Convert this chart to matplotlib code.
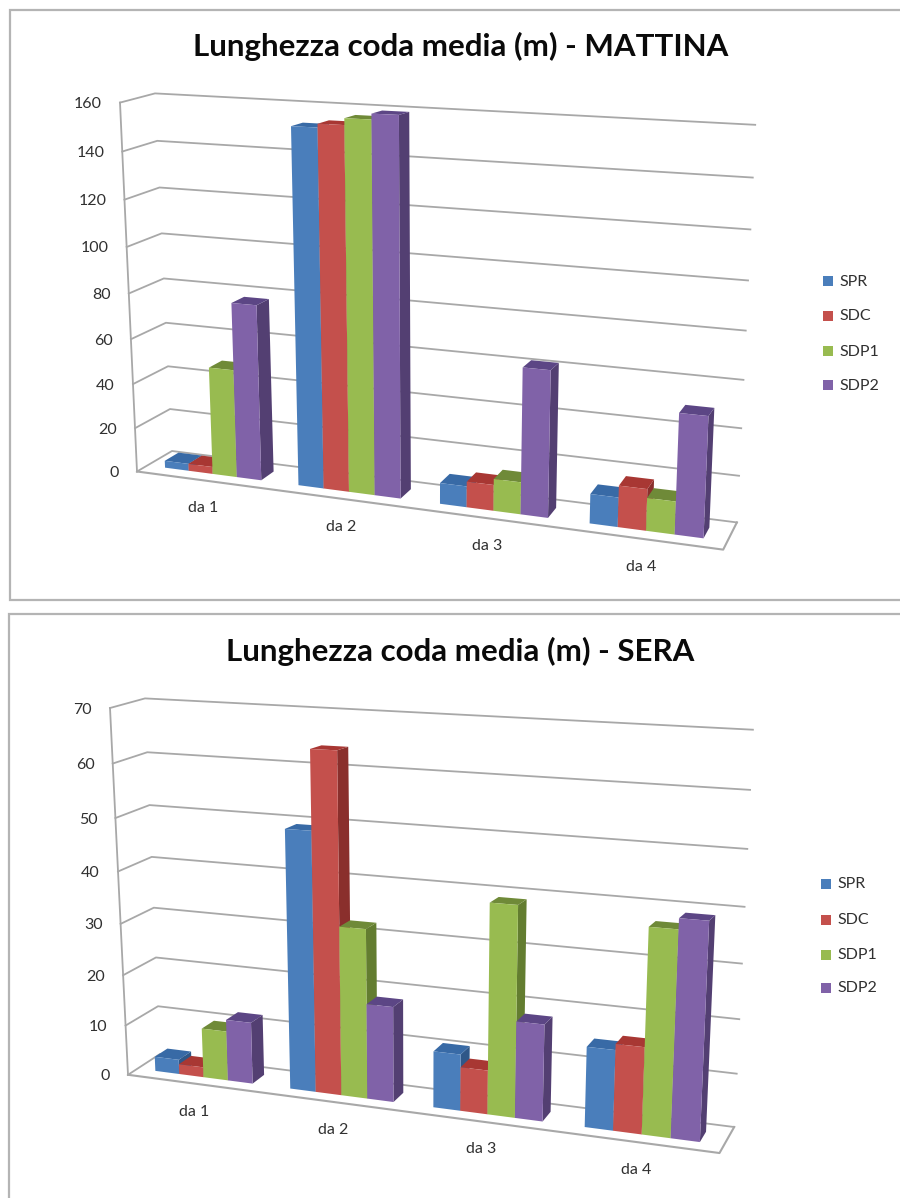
import numpy as np
import matplotlib
matplotlib.use('Agg')
import matplotlib.pyplot as plt
from matplotlib.patches import Polygon, Rectangle

plt.rcParams['font.family'] = ['Lato', 'DejaVu Sans']

categories = ['da 1', 'da 2', 'da 3', 'da 4']
series = ['SPR', 'SDC', 'SDP1', 'SDP2']

# values, one list per series
mattina_spr = [3.2, 152.5, 9.1, 12.5]
mattina_sdc = [3.2, 154, 11.2, 17.5]
mattina_sdp1 = [48.2, 156.7, 13.8, 13.8]
mattina_sdp2 = [77.5, 159, 62, 50]

sera_spr = [2.9, 49.3, 10.7, 14.8]
sera_sdc = [2, 63.8, 8.3, 15.9]
sera_sdp1 = [9.8, 32.2, 38.9, 37]
sera_sdp2 = [12.1, 18.2, 18, 38.9]

ticks_mattina = [0, 20, 40, 60, 80, 100, 120, 140, 160]
ticks_sera = [0, 10, 20, 30, 40, 50, 60, 70]

front_colors = ['#4a7ebb', '#c4504c', '#98bb50', '#8062a8']
top_colors = ['#386aa6', '#a83733', '#6f8a38', '#5c4685']
side_colors = ['#2f5788', '#8a2f2c', '#637d30', '#533f72']
grid_color = '#a8a8a8'
frame_color = '#b4b4b4'
text_color = '#303030'


def warp(u):
    # the right side of the chart is closer, so the categories get wider
    return 0.885 * u + 0.112 * u ** 2


def make_projection(corners, vmax):
    # corners: floor then ceiling, order back-left, back-right, front-left, front-right
    c = {k: np.array(p, dtype=float) for k, p in corners.items()}

    def project(u, v, value):
        w = warp(u)
        r = value / vmax
        h = 0.93 * r + 0.07 * r ** 2  # gridlines spread out a bit going up
        floor = (1 - v) * ((1 - w) * c['fl0'] + w * c['fr0']) + v * ((1 - w) * c['bl0'] + w * c['br0'])
        ceil = (1 - v) * ((1 - w) * c['fl1'] + w * c['fr1']) + v * ((1 - w) * c['bl1'] + w * c['br1'])
        return (1 - h) * floor + h * ceil
    return project


def draw_panel(ax, title, title_y, corners, ticks, data, legend_x, legend_ys):
    vmax = ticks[-1]
    project = make_projection(corners, vmax)

    # walls and floor
    for t in ticks:
        pts = [project(0, 0, t), project(0, 1, t), project(1.003, 1, t)]
        ax.plot([p[0] for p in pts], [p[1] for p in pts], color=grid_color, lw=1.3, zorder=1)
        ax.text(pts[0][0] - 18, pts[0][1] + 1.5, str(t), ha='right', va='center',
                fontsize=11.5, color=text_color)
    axis = [project(0, 0, 0), project(0, 0, vmax)]
    ax.plot([p[0] for p in axis], [p[1] for p in axis], color=grid_color, lw=1.3, zorder=1)
    floor = [project(0, 0, 0), project(1.003, 0, 0), project(1.003, 1, 0)]
    ax.plot([p[0] for p in floor], [p[1] for p in floor], color=grid_color, lw=1.5, zorder=1)

    # bars, left to right so each front hides the side of the previous one
    n_cat = len(categories)
    n_ser = len(series)
    group = 0.25 * 4 / 5.5
    bar = group / n_ser
    v0, v1 = 0.3, 0.7
    z = 2
    for i in range(n_cat):
        start = (i + 0.5) / n_cat - group / 2
        for j in range(n_ser):
            val = data[j][i]
            u0 = start + j * bar
            u1 = u0 + bar
            side = [project(u1, v0, 0), project(u1, v1, 0), project(u1, v1, val), project(u1, v0, val)]
            top = [project(u0, v0, val), project(u1, v0, val), project(u1, v1, val), project(u0, v1, val)]
            front = [project(u0, v0, 0), project(u1, v0, 0), project(u1, v0, val), project(u0, v0, val)]
            ax.add_patch(Polygon(side, closed=True, fc=side_colors[j], ec='none', zorder=z))
            ax.add_patch(Polygon(top, closed=True, fc=top_colors[j], ec='none', zorder=z))
            ax.add_patch(Polygon(front, closed=True, fc=front_colors[j], ec='none', zorder=z))
            z += 1
        p = project((i + 0.5) / n_cat, 0, 0)
        ax.text(p[0], p[1] + 28, categories[i], ha='center', va='center',
                fontsize=11.5, color=text_color)

    ax.text(460.5, title_y, title, ha='center', va='center', fontsize=22.5,
            fontweight='bold', color='#0a0a0a')

    for j, name in enumerate(series):
        ax.add_patch(Rectangle((legend_x, legend_ys[j] - 5), 10, 10, fc=front_colors[j], ec='none'))
        ax.text(legend_x + 16, legend_ys[j] + 0.5, name, ha='left', va='center',
                fontsize=11.5, color=text_color)


fig = plt.figure(figsize=(9, 11.98), dpi=100)
ax = fig.add_axes([0, 0, 1, 1])
ax.set_xlim(0, 900)
ax.set_ylim(1198, 0)
ax.axis('off')

ax.add_patch(Rectangle((10, 10), 900, 590, fc='white', ec=frame_color, lw=1.6))
ax.add_patch(Rectangle((8.5, 614), 900, 600, fc='white', ec=frame_color, lw=1.6))

corners_mattina = {'bl0': (172, 451), 'br0': (736.7, 522.4), 'fl0': (137, 471.5), 'fr0': (723, 549.6),
                   'bl1': (155, 93.4), 'br1': (755, 124.8), 'fl1': (120, 102.6), 'fr1': (741, 130)}
corners_sera = {'bl0': (160, 1054), 'br0': (734, 1127), 'fl0': (128, 1074.8), 'fr0': (719.3, 1153),
                'bl1': (145, 698.4), 'br1': (752.7, 729.7), 'fl1': (110, 708), 'fr1': (738, 733)}

draw_panel(ax, 'Lunghezza coda media (m) - MATTINA', 46, corners_mattina, ticks_mattina,
           [mattina_spr, mattina_sdc, mattina_sdp1, mattina_sdp2], 823, [281, 316, 351, 385])
draw_panel(ax, 'Lunghezza coda media (m) - SERA', 651.5, corners_sera, ticks_sera,
           [sera_spr, sera_sdc, sera_sdp1, sera_sdp2], 821, [884, 919.5, 954.5, 988])

fig.savefig('out.png', dpi=100)
